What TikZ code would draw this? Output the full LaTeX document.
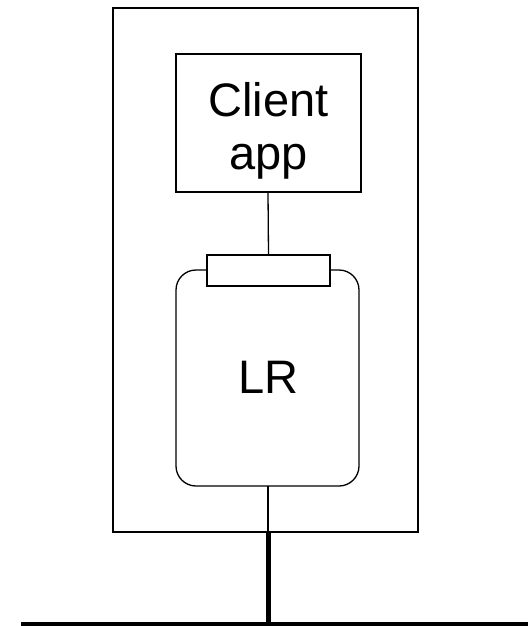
\documentclass[tikz,border=0pt]{standalone}
\usepackage{fontspec}
\setmainfont{Liberation Sans}
\begin{document}
\begin{tikzpicture}[x=1pt,y=-1pt,
  thinline/.style={line width=1.3pt},
  label/.style={font=\fontsize{47}{53}\selectfont, align=center, inner sep=0pt}]
\useasboundingbox (0,0) rectangle (528,626);
% host enclosure
\draw[thinline] (113,8) rectangle (418,532);
\coordinate (hostbot) at (268,532);
% client application
\draw[thinline] (176,54) rectangle (361,192);
\node[label] (client) at (268.7,130.5) {Client\\app};
\coordinate (clientbot) at (268,192);
% LR with its interface port
\draw[thinline, rounded corners=20pt] (176,270) rectangle (359,486);
\node[label] (lr) at (268.7,377) {LR};
\node[draw, thinline, minimum width=123pt, minimum height=31pt, inner sep=0pt, fill=white] (port) at (268.5,270.5) {};
\coordinate (lrbot) at (268,486);
% links
\draw[thinline] (clientbot) -- (port.north);
\draw[thinline] (lrbot) -- (hostbot);
\coordinate (tap) at (268,624);
\draw[line width=5pt] (hostbot) -- (tap);
\coordinate (busL) at (21,624);
\coordinate (busR) at (528,624);
\draw[line width=4pt] (busL) -- (busR);
\end{tikzpicture}
\end{document}
